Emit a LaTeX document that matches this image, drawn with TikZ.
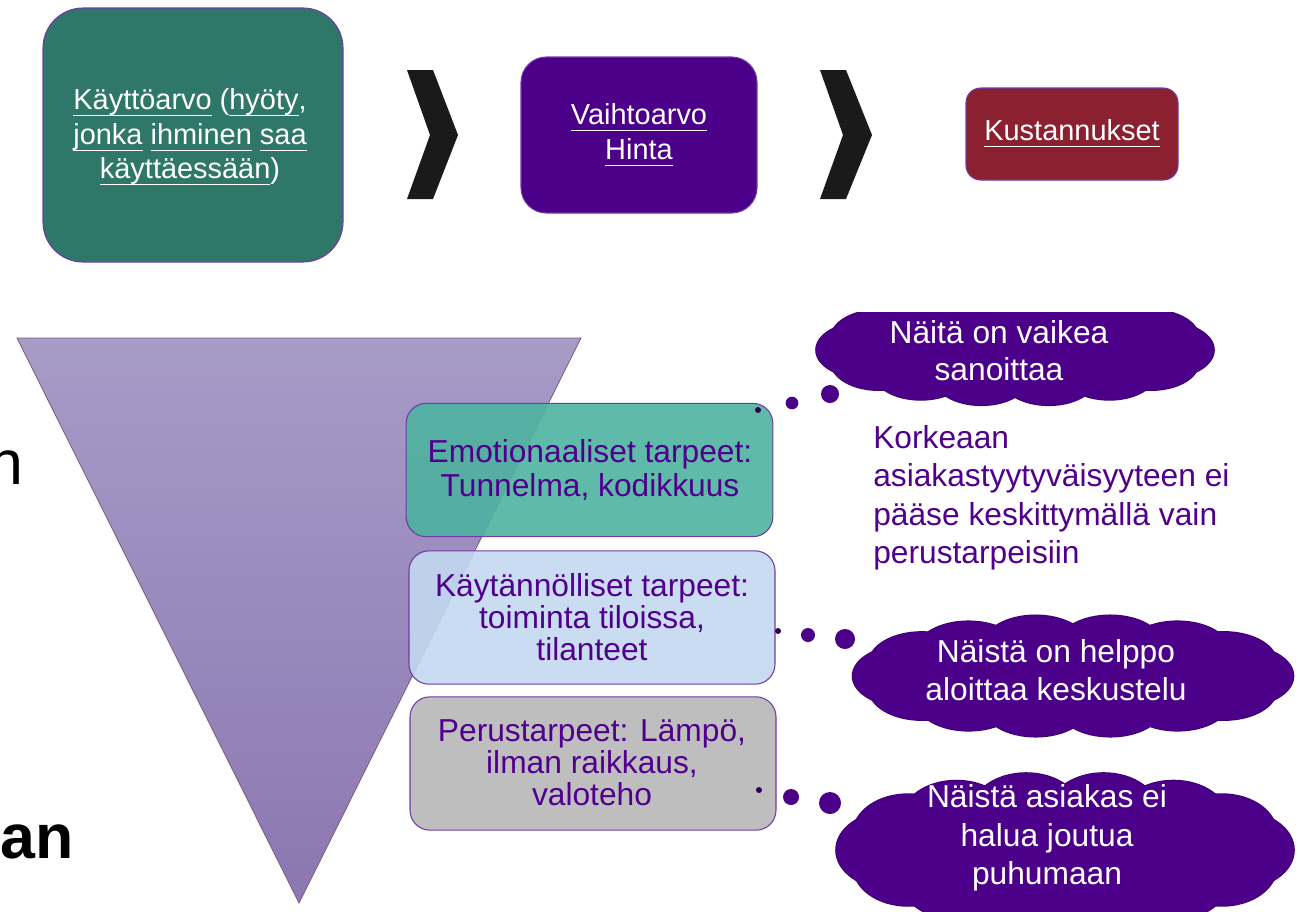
\documentclass[tikz,border=0pt]{standalone}
\usepackage{fontspec}
\setmainfont{Liberation Sans}
\definecolor{boxgreen}{RGB}{46,119,105}
\definecolor{indig}{RGB}{76,0,137}
\definecolor{cloudedge}{RGB}{58,0,105}
\definecolor{maroonbox}{RGB}{139,32,48}
\definecolor{chev}{RGB}{26,26,26}
\definecolor{tealbox}{RGB}{78,178,160}
\definecolor{lblue}{RGB}{195,216,240}
\definecolor{lgrey}{RGB}{190,190,190}
\definecolor{txtpurple}{RGB}{80,0,140}
\definecolor{edgepurple}{RGB}{112,60,165}
\definecolor{tritop}{RGB}{167,155,199}
\definecolor{tribot}{RGB}{139,119,177}
\definecolor{dotdark}{RGB}{45,0,80}
\newcommand\wu[1]{\setbox0\hbox{#1}\rlap{\vrule height -4.2pt depth 5.0pt width \wd0}\box0\relax}
% custom thought cloud: centre x, centre y, width, height (px)
\newcommand\cloudparts[5]{%
  \fill[#5] (#1,#2) ellipse [x radius=\cea*0.75pt+2pt, y radius=\ceb*0.75pt+2pt];
  \foreach \ang in {0,25.71,...,340}{%
    \fill[#5] ({#1+\cea*cos(\ang)},{#2+\ceb*sin(\ang)}) ellipse [x radius=\crx*0.75pt, y radius=\cry*0.75pt];
  }%
}
\newcommand\thoughtcloud[4]{%
  \pgfmathsetmacro\crx{0.12*#3}\pgfmathsetmacro\cry{0.25*#4}%
  \pgfmathsetmacro\cea{#3/2-\crx}\pgfmathsetmacro\ceb{#4/2-\cry}%
  \cloudparts{#1}{#2}{#3}{#4}{cloudedge, draw=cloudedge, line width=1.2pt}%
  \cloudparts{#1}{#2}{#3}{#4}{indig}%
}
\tikzset{
  topbox/.style={draw=edgepurple, line width=0.8pt, inner sep=0pt, text=white, align=center,
    font=\fontsize{21.7}{26}\selectfont},
  needbox/.style={draw=edgepurple, line width=0.8pt, inner sep=0pt, text=txtpurple, align=center,
    rounded corners=15pt, fill opacity=0.9, text opacity=1,
    minimum width=275pt, minimum height=100pt},
  needtext/.style={inner sep=0pt, text=txtpurple, align=center, font=\fontsize{23.8}{24}\selectfont},
  cloudtext/.style={inner sep=0pt, text=white, align=center},
  bub/.style={circle, fill=indig, inner sep=0pt},
  bubsmall/.style={circle, fill=dotdark, inner sep=0pt, minimum size=4.5pt},
  chevron/.style={fill=chev},
}
\begin{document}
\begin{tikzpicture}[x=0.75pt,y=-0.75pt]
\useasboundingbox (0,0) rectangle (1301,911);

% top row
\node[topbox, fill=boxgreen, rounded corners=30pt, minimum width=225pt, minimum height=190.5pt] (use) at (193,135) {};
\node[inner sep=0pt, text=white, align=center, font=\fontsize{21.7}{26}\selectfont] (usetxt) at (190,137)
  {\wu{Käyttöarvo} (\wu{hyöty},\\ \wu{jonka} \wu{ihminen} \wu{saa}\\ \wu{käyttäessään})};
\fill[chevron] (407,70) -- (433,70) -- (458,135) -- (433,199) -- (407,199) -- (430,135) -- cycle;
\node[topbox, fill=indig, rounded corners=19pt, minimum width=177pt, minimum height=117pt] (exch) at (639,135) {};
\node[inner sep=0pt, text=white, align=center, font=\fontsize{21.7}{26}\selectfont] (exchtxt) at (639,135)
  {\wu{Vaihtoarvo}\\ \wu{Hinta}};
\fill[chevron] (820,70) -- (846,70) -- (872,135) -- (846,199) -- (820,199) -- (843,135) -- cycle;
\node[topbox, fill=maroonbox, rounded corners=11pt, minimum width=159pt, minimum height=69pt] (cost) at (1072,134) {};
\node[inner sep=0pt, text=white, font=\fontsize{21.7}{26}\selectfont] (costtxt) at (1072,133) {\wu{Kustannukset}};

% left cut-off text
\node[anchor=base east, inner sep=0pt, font=\fontsize{47}{50}\selectfont] (frag1) at (24,484) {n};
\node[anchor=base east, inner sep=0pt, font=\fontsize{47}{50}\selectfont\bfseries] (frag2) at (74,858) {an};

% triangle
\path[top color=tritop, bottom color=tribot, draw=gray!70!violet, line width=0.6pt]
  (17,338) -- (581,338) -- (299,903) -- cycle;

% need boxes
\node[needbox, fill=tealbox] (emo) at (589.5,470) {};
\node[needtext, font=\fontsize{23.8}{25.5}\selectfont] (emotxt) at (590,470) {Emotionaaliset tarpeet:\\ Tunnelma, kodikkuus};
\node[needbox, fill=lblue, minimum width=274.5pt] (prac) at (592,617.5) {};
\node[needtext] (practxt) at (592,617) {Käytännölliset tarpeet:\\ toiminta tiloissa,\\ tilanteet};
\node[needbox, fill=lgrey, fill opacity=1, minimum width=274.5pt] (basic) at (593,763.5) {};
\node[needtext] (basictxt) at (592,763) {Perustarpeet: Lämpö,\\ ilman raikkaus,\\ valoteho};

% clouds
\begin{scope}
\clip (700,312) rectangle (1301,911);
\thoughtcloud{1015}{350}{398}{112}
\end{scope}
\node[cloudtext, font=\fontsize{23.8}{27.8}\selectfont] (c1txt) at (999,351) {Näitä on vaikea\\ sanoittaa};
\thoughtcloud{1073}{676}{441}{123}
\node[cloudtext, font=\fontsize{23.8}{28.5}\selectfont] (c2txt) at (1056,670) {Näistä on helppo\\ aloittaa keskustelu};
\thoughtcloud{1065}{850}{458}{156}
\node[cloudtext, font=\fontsize{23.8}{29}\selectfont] (c3txt) at (1047,838) {Näistä asiakas ei\\ halua joutua\\ puhumaan};

% bubbles
\node[bubsmall] (b11) at (758,410) {};
\node[bub, minimum size=9.5pt] (b12) at (792,403) {};
\node[bub, minimum size=13.5pt] (b13) at (830,394) {};
\node[bubsmall] (b21) at (778,631) {};
\node[bub, minimum size=10.5pt] (b22) at (808,635) {};
\node[bub, minimum size=15pt] (b23) at (845,639) {};
\node[bubsmall] (b31) at (759,790) {};
\node[bub, minimum size=12pt] (b32) at (791,797) {};
\node[bub, minimum size=16.5pt] (b33) at (830,803) {};

% side note
\node[anchor=north west, inner sep=0pt, text=txtpurple, align=left, font=\fontsize{23.8}{28.9}\selectfont] (note) at (873,425)
  {Korkeaan\\ asiakastyytyväisyyteen ei\\ pääse keskittymällä vain\\ perustarpeisiin};
\end{tikzpicture}
\end{document}
